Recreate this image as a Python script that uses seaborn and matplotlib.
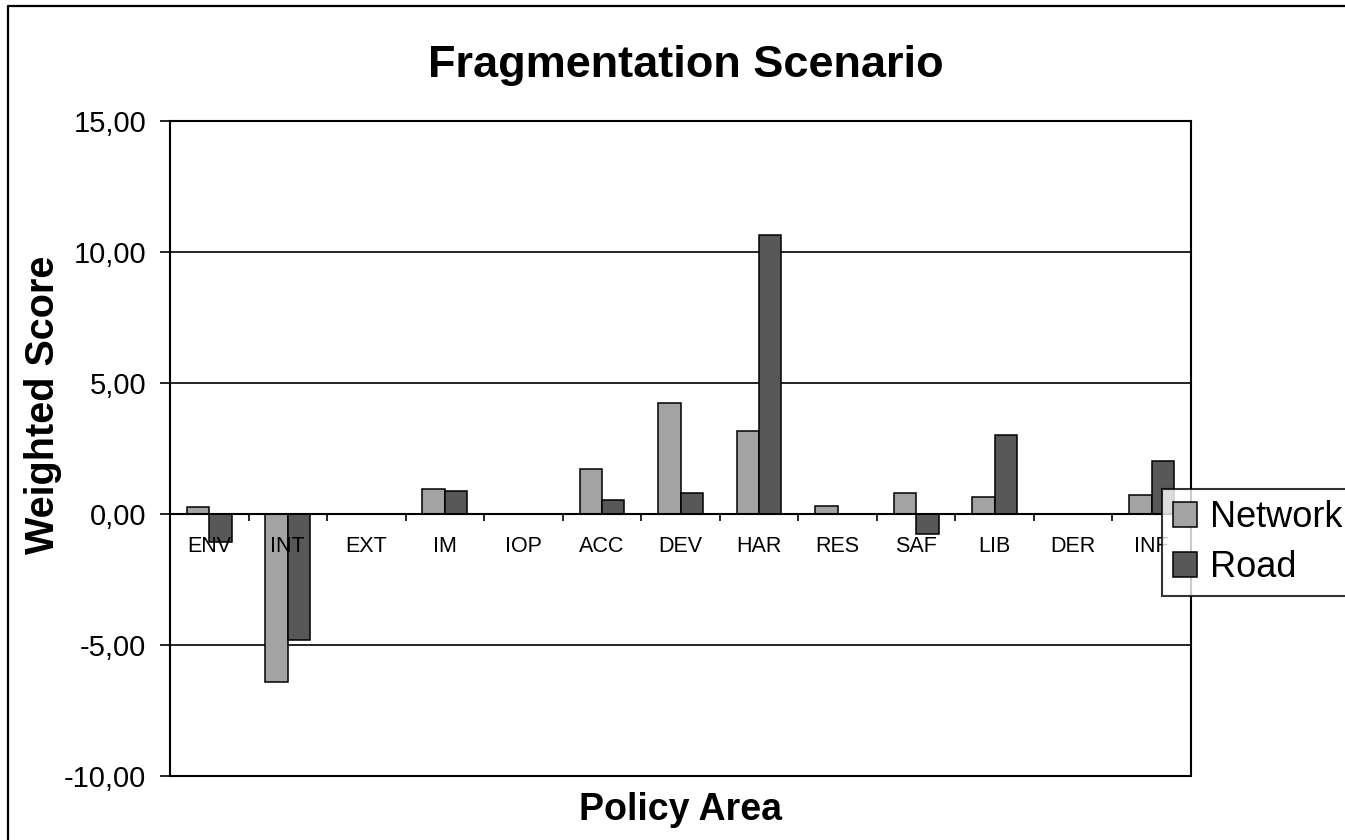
import matplotlib
matplotlib.use("Agg")
import matplotlib.pyplot as plt
from matplotlib.lines import Line2D
from matplotlib.ticker import FuncFormatter, FixedLocator
import numpy as np
import pandas as pd
import seaborn as sns

# Policy areas and weighted scores for each option
categories = ["ENV", "INT", "EXT", "IM", "IOP", "ACC", "DEV",
              "HAR", "RES", "SAF", "LIB", "DER", "INF"]
network = [0.25, -6.40, 0.00, 0.94, 0.00, 1.73, 4.24,
           3.17, 0.30, 0.81, 0.65, 0.00, 0.73]
road = [-1.05, -4.80, 0.00, 0.88, 0.00, 0.52, 0.80,
        10.65, 0.00, -0.78, 3.02, 0.00, 2.02]
series = ["Network", "Road"]
y_ticks = [-10, -5, 0, 5, 10, 15]

df = pd.DataFrame({
    "Policy Area": categories * 2,
    "Weighted Score": network + road,
    "Option": [series[0]] * len(categories) + [series[1]] * len(categories),
})

sns.set_style("white")
plt.rcParams["font.family"] = ["Liberation Sans", "DejaVu Sans"]
plt.rcParams["text.color"] = "black"
plt.rcParams["axes.labelcolor"] = "black"
plt.rcParams["xtick.color"] = "black"
plt.rcParams["ytick.color"] = "black"

W, H = 1345, 840
fig = plt.figure(figsize=(W / 100, H / 100), dpi=100)
ax = fig.add_axes([170 / W, 1 - 776 / H, (1191 - 170) / W, (776 - 121) / H])

sns.barplot(
    data=df, x="Policy Area", y="Weighted Score", hue="Option",
    order=categories, hue_order=series,
    palette=["#a3a3a3", "#585858"], width=0.571, gap=0,
    edgecolor="black", linewidth=1.1, saturation=1,
    legend=False, ax=ax, zorder=2,
)

ax.set_ylim(-10, 15)
ax.set_xlim(-0.5, len(categories) - 0.5)
ax.set_yticks(y_ticks)
ax.yaxis.set_major_formatter(FuncFormatter(lambda v, p: f"{v:.2f}".replace(".", ",")))
ax.tick_params(axis="y", direction="out", length=7, width=1.2, pad=10,
               labelsize=21, labelcolor="black", left=True)

# gridlines at the inner y values
for v in y_ticks[1:-1]:
    if v != 0:
        ax.axhline(v, color="black", lw=1.2, zorder=1)

# category axis crossing at zero, frame line at the bottom
for side in ["left", "right", "top", "bottom"]:
    ax.spines[side].set_color("black")
    ax.spines[side].set_linewidth(1.5)
ax.spines["bottom"].set_position(("data", 0))
ax.axhline(-10, color="black", lw=1.5, zorder=4, clip_on=False)

ax.xaxis.set_minor_locator(FixedLocator(np.arange(0.5, len(categories) - 1, 1.0)))
ax.tick_params(axis="x", which="major", length=0, pad=16, labelsize=15.5,
               labelcolor="black", bottom=True)
ax.tick_params(axis="x", which="minor", direction="out", length=5, width=1.2,
               bottom=True, color="black")
# category labels sit on top of the bars
ax.xaxis.set_zorder(4)

ax.set_xlabel("Policy Area", fontsize=27, fontweight="bold")
ax.xaxis.label.set_verticalalignment("baseline")
ax.xaxis.set_label_coords(0.5, (776 - 820) / (776 - 121))

ax.set_ylabel("Weighted Score", fontsize=28.5, fontweight="bold")
ax.yaxis.label.set_verticalalignment("center")
ax.yaxis.set_label_coords((43 - 170) / (1191 - 170), (776 - 405) / (776 - 121))

fig.text(686 / W, 1 - 77 / H, "Fragmentation Scenario", ha="center",
         va="baseline", fontsize=32.5, fontweight="bold")

leg = ax.legend(
    handles=ax.containers, labels=series,
    loc="upper left", bbox_to_anchor=(1162 / W, 1 - 489 / H),
    bbox_transform=fig.transFigure, borderaxespad=0,
    fontsize=26, frameon=True, fancybox=False, shadow=False,
    borderpad=0.3, labelspacing=0.42, handlelength=0.68, handleheight=0.68,
    handletextpad=0.36,
)
leg.get_frame().set_edgecolor("black")
leg.get_frame().set_linewidth(1.5)
leg.set_zorder(6)

# outer chart border
fig.add_artist(Line2D([8 / W, 1.02], [1 - 6 / H, 1 - 6 / H], color="black",
                      lw=1.6, transform=fig.transFigure))
fig.add_artist(Line2D([8 / W, 8 / W], [-0.02, 1 - 6 / H], color="black",
                      lw=1.6, transform=fig.transFigure))

fig.savefig("out.png", dpi=100, facecolor="white")
